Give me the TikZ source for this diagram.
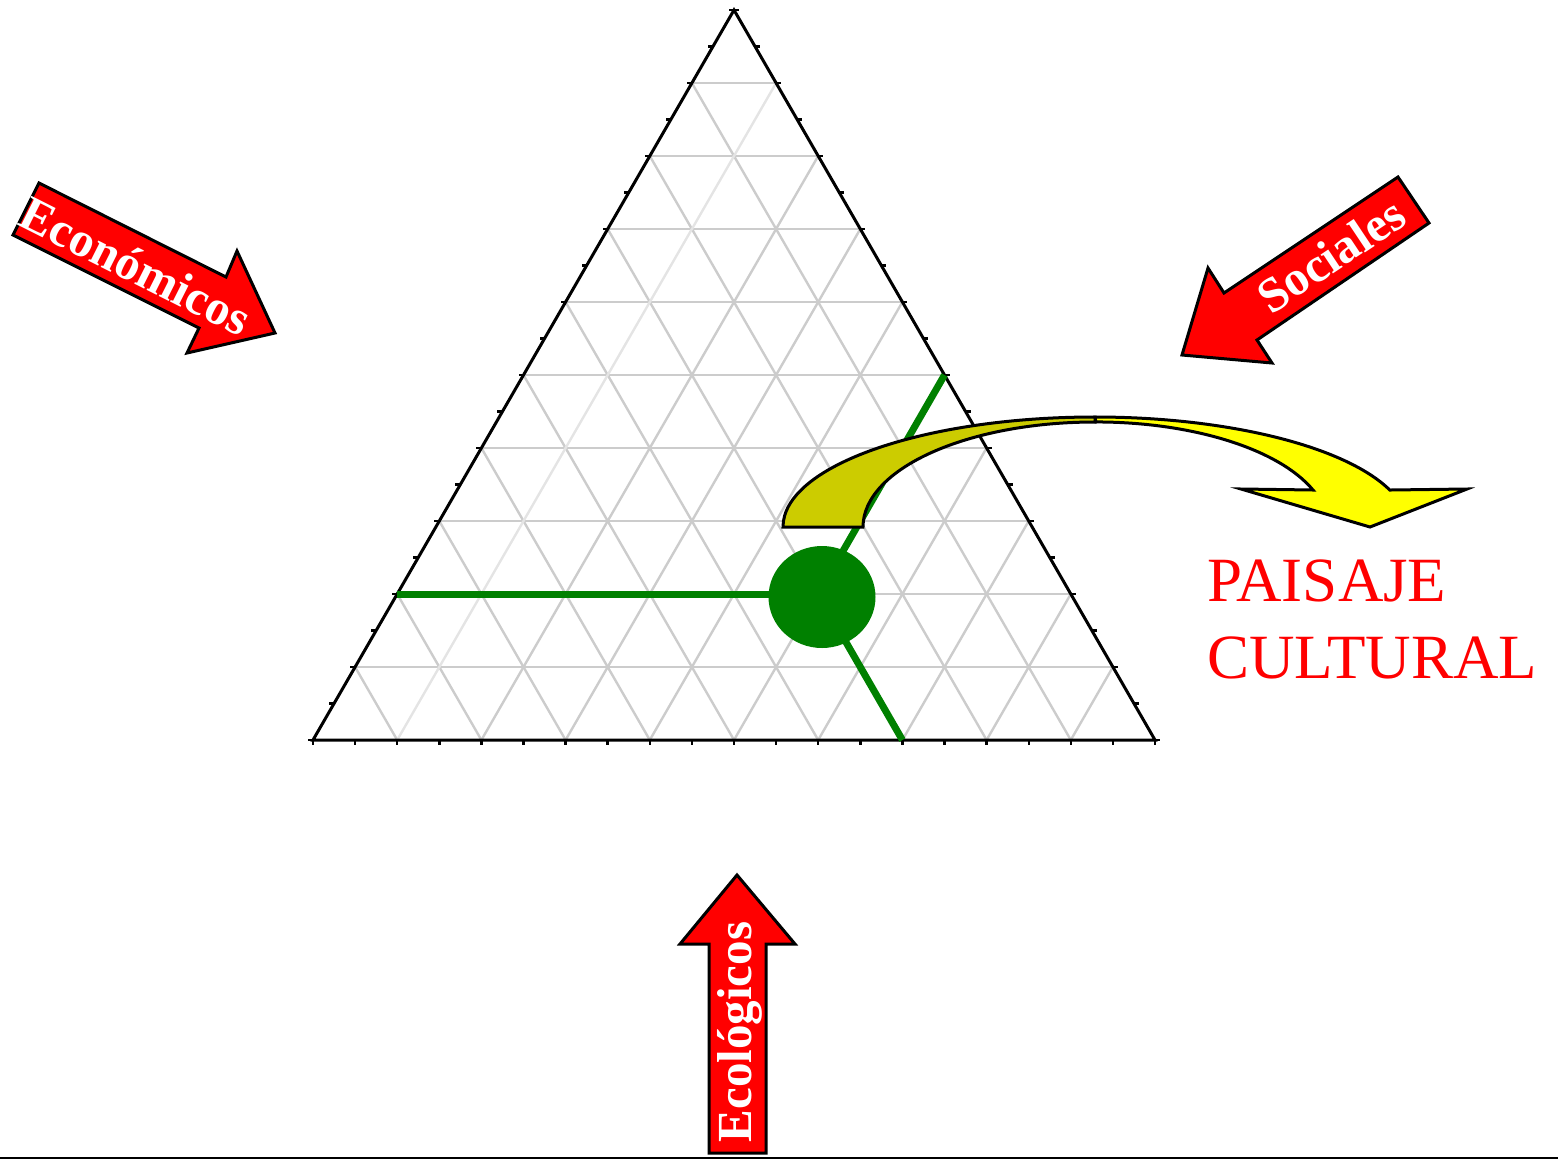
\documentclass[tikz,border=0pt]{standalone}
\usepackage{fontspec}
\setmainfont{Liberation Serif}
\usepackage{tikz}
\usetikzlibrary{calc,shapes.geometric}
\definecolor{verde}{HTML}{008000}
\definecolor{amarillo}{HTML}{FFFF00}
\definecolor{oliva}{HTML}{CCCC00}
\definecolor{rojo}{HTML}{FF0000}
\definecolor{grisrejilla}{HTML}{CCCCCC}
\definecolor{grisclaro}{HTML}{E4E4E4}
\tikzset{
  rejilla/.style   = {draw=grisrejilla, line width=2.4pt},
  borde/.style     = {draw=black, line width=3pt, line join=miter},
  marca/.style     = {draw=black, line width=2.4pt},
  ternaria/.style  = {draw=verde, line width=7pt},
  factor/.style    = {fill=rojo, draw=black, line width=3pt, line join=miter},
  rotulo/.style    = {text=white, inner sep=0pt,
                      font=\bfseries\fontsize{49}{52}\selectfont},
  curva/.style     = {draw=black, line width=3pt, line join=miter},
}

\begin{document}
\begin{tikzpicture}[x=1pt,y=-1pt]
    \useasboundingbox (0,0) rectangle (1558,1160);

    % --- triangulo
    \coordinate (A) at (313,740);
    \coordinate (B) at (1155,740);
    \coordinate (C) at (734,10);

    \foreach \i [evaluate=\i as \t using \i/10] in {1,...,9} {
      \draw[rejilla] ($(A)!\t!(C)$) -- ($(B)!\t!(C)$);
      \draw[rejilla] ($(A)!\t!(B)$) -- ($(A)!\t!(C)$);
    }
    \foreach \i [evaluate=\i as \t using \i/10] in {2,...,9}
      \draw[rejilla] ($(A)!\t!(B)$) -- ($(C)!\t!(B)$);
    \draw[rejilla, draw=grisclaro] ($(A)!0.1!(B)$) -- ($(C)!0.1!(B)$);

    \draw[borde] (A) -- (B) -- (C) -- cycle;
    \foreach \i [evaluate=\i as \t using \i/20] in {0,...,20} {
      \draw[marca] ($(A)!\t!(B)$) -- ++(0,5);
      \draw[marca] ($(A)!\t!(C)$) -- ++(-5,0);
      \draw[marca] ($(B)!\t!(C)$) -- ++(5,0);
    }

    % --- punto del paisaje
    \coordinate (P) at ($(A)!0.7!(B) + 0.2*(C) - 0.2*(B)$);
    \coordinate (izq) at ($(A)!0.2!(C)$);
    \coordinate (abajo) at ($(A)!0.7!(B)$);
    \coordinate (der) at ($(B)!0.5!(C)$);
    \draw[ternaria] (izq) -- (P);
    \draw[ternaria] (P) -- (abajo);
    \draw[ternaria] (P) -- (der);
    \node[ellipse, fill=verde, minimum width=107pt, minimum height=102pt,
          inner sep=0pt] (punto) at (822,597) {};

    % --- flecha curva
    \draw[curva, fill=amarillo] (1095,417)
      arc[start angle=90, end angle=19.65, x radius=313pt, y radius=110pt]
      -- (1467,489) -- (1370,527) -- (1241,489) -- (1313,490)
      arc[start angle=20.6, end angle=90, x radius=232pt, y radius=105pt]
      -- cycle;
    \draw[curva, fill=oliva] (783,527)
      arc[start angle=180, end angle=90, x radius=312pt, y radius=110pt]
      -- (1095,422)
      arc[start angle=90, end angle=180, x radius=232pt, y radius=105pt]
      -- cycle;

    \node[text=rojo, align=left, anchor=north west, inner sep=0pt,
          font=\fontsize{63}{77}\selectfont] (paisaje) at (1207,560)
      {PAISAJE\\CULTURAL};

    % --- factores
    \draw[factor] (39,183) -- (226,277) -- (237,251) -- (275,333)
      -- (187,353) -- (199,328) -- (13,235) -- cycle;
    \node[rotulo, rotate=-26.7] (economicos) at (136,266) {Económicos};

    \draw[factor] (1398,177) -- (1429,223) -- (1257,340) -- (1272,363)
      -- (1182,355) -- (1208,268) -- (1224,293) -- cycle;
    \node[rotulo, rotate=33.7] (sociales) at (1331,255) {Sociales};

    \draw[factor] (737,875) -- (795,944) -- (766,944) -- (766,1153)
      -- (709,1153) -- (709,944) -- (680,944) -- cycle;
    \node[rotulo, rotate=90] (ecologicos) at (740,1032) {Ecológicos};

    \draw[line width=2.6pt] (0,1158) -- (1558,1158);
\end{tikzpicture}
\end{document}
